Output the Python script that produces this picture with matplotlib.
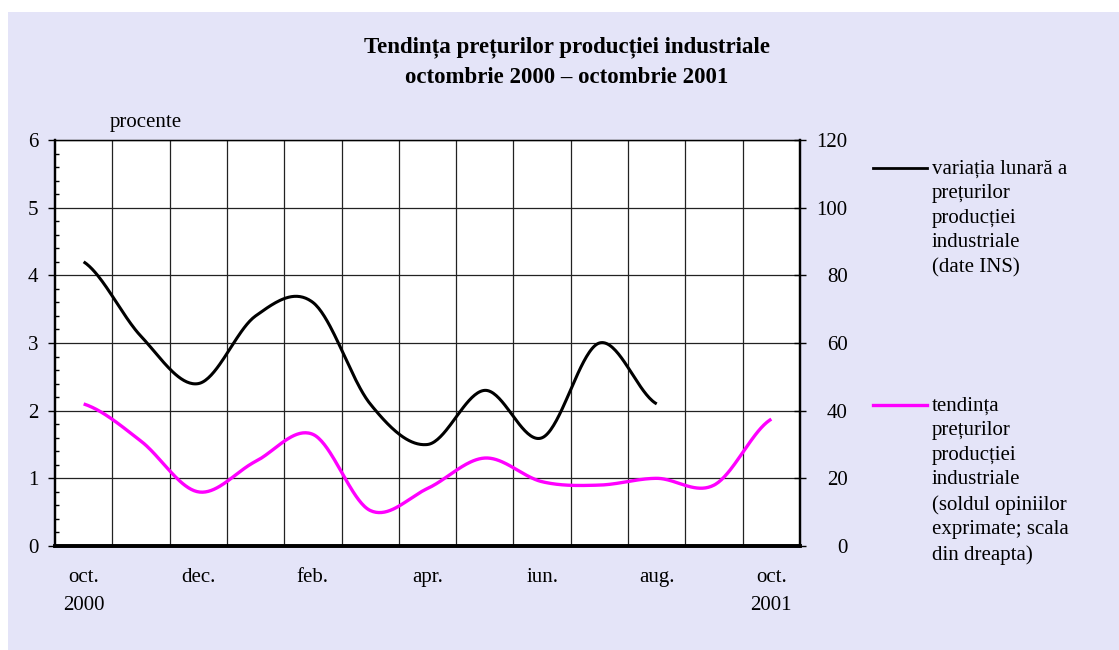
import numpy as np
import matplotlib
matplotlib.use('Agg')
import matplotlib.pyplot as plt
from matplotlib.patches import Rectangle
from matplotlib.lines import Line2D
from matplotlib.ticker import MultipleLocator, FixedLocator

plt.rcParams['font.family'] = ['Liberation Serif', 'DejaVu Serif']

# ---- data ----
months = ['oct. 2000', 'nov.', 'dec.', 'ian.', 'feb.', 'mar.', 'apr.', 'mai',
          'iun.', 'iul.', 'aug.', 'sep.', 'oct. 2001']
tick_labels = ['oct.\n2000', '', 'dec.', '', 'feb.', '', 'apr.', '', 'iun.', '',
               'aug.', '', 'oct.\n2001']
variatia_lunara = [4.2, 3.1, 2.4, 3.4, 3.6, 2.1, 1.5, 2.3, 1.6, 3.0, 2.1]   # left axis, %
tendinta = [42, 31, 16, 25, 33, 10.5, 17, 26, 19, 18, 20, 18, 37.5]       # right axis
left_ticks = [0, 1, 2, 3, 4, 5, 6]
right_ticks = [0, 20, 40, 60, 80, 100, 120]
title = 'Tendința prețurilor producției industriale\noctombrie 2000 – octombrie 2001'
label_black = 'variația lunară a\nprețurilor\nproducției\nindustriale\n(date INS)'
label_magenta = ('tendința\nprețurilor\nproducției\nindustriale\n(soldul opiniilor\n'
                 'exprimate; scala\ndin dreapta)')


def smooth(xs, ys, n=40):
    """Excel-like smoothed line (Catmull-Rom Bezier) through the data points."""
    xs = np.asarray(xs, float)
    ys = np.asarray(ys, float)
    outx, outy = [], []
    m = len(xs)
    for i in range(m - 1):
        p0 = ys[i - 1] if i > 0 else ys[i]
        p1, p2 = ys[i], ys[i + 1]
        p3 = ys[i + 2] if i + 2 < m else ys[i + 1]
        c1 = p1 + (p2 - p0) / 6.0
        c2 = p2 - (p3 - p1) / 6.0
        t = np.linspace(0, 1, n, endpoint=(i == m - 2))
        y = (1 - t) ** 3 * p1 + 3 * (1 - t) ** 2 * t * c1 + 3 * (1 - t) * t ** 2 * c2 + t ** 3 * p2
        x = xs[i] + (xs[i + 1] - xs[i]) * t
        outx.append(x)
        outy.append(y)
    return np.concatenate(outx), np.concatenate(outy)


W, H = 1119, 650
FS = 15
fig = plt.figure(figsize=(W / 100, H / 100), dpi=100)
fig.patch.set_facecolor('white')
fig.patches.append(Rectangle((8 / W, 0), 1 - 8 / W, 1 - 12 / H, transform=fig.transFigure,
                             facecolor='#e4e4f8', edgecolor='none', zorder=-10))

ax = fig.add_axes([55 / W, 104 / H, 745 / W, 406 / H])
ax.set_facecolor('white')
ax2 = ax.twinx()

x_all = np.arange(len(months))
xb, yb = smooth(x_all[:len(variatia_lunara)], variatia_lunara)
xm, ym = smooth(x_all, tendinta)
ax.plot(xb, yb, color='black', lw=2.2, solid_capstyle='butt', zorder=5)
ax2.plot(xm, ym, color='#ff00ff', lw=2.4, solid_capstyle='butt', zorder=5)

ax.set_xlim(-0.5, len(months) - 0.5)
ax.set_ylim(0, 6)
ax2.set_ylim(0, 120)

# x axis
ax.xaxis.set_major_locator(FixedLocator(x_all))
ax.set_xticklabels(tick_labels, fontsize=FS, linespacing=1.62)
ax.xaxis.set_minor_locator(FixedLocator(np.arange(0.5, len(months) - 0.5, 1)))
ax.tick_params(axis='x', which='both', length=0, pad=16)
ax.grid(axis='x', which='minor', color='#222222', lw=0.9)

# left y axis
ax.yaxis.set_major_locator(FixedLocator(left_ticks))
ax.set_yticklabels([str(v) for v in left_ticks], fontsize=FS)
ax.yaxis.set_minor_locator(MultipleLocator(0.2))
ax.tick_params(axis='y', which='major', direction='out', length=5, width=1, pad=7)
ax.tick_params(axis='y', which='minor', direction='in', length=3, width=1)
ax.grid(axis='y', which='major', color='#222222', lw=0.9)

# right y axis
ax2.yaxis.set_major_locator(FixedLocator(right_ticks))
ax2.set_yticklabels([str(v) for v in right_ticks], fontsize=FS, ha='right')
ax2.tick_params(axis='y', direction='inout', length=8.6, width=1, pad=30)

for a in (ax, ax2):
    a.spines['left'].set_linewidth(1.6)
    a.spines['right'].set_linewidth(1.6)
    a.spines['bottom'].set_linewidth(2.6)
    a.spines['top'].set_linewidth(0.9)
ax.set_axisbelow(True)

# title and unit
fig.text(567 / W, 1 - 62 / H, title, ha='center', va='center', fontsize=16.5,
         fontweight='bold', linespacing=1.55)
fig.text(110 / W, 1 - 122 / H, 'procente', ha='left', va='center', fontsize=FS)

# legend (manual)
fig.add_artist(Line2D([873 / W, 927 / W], [1 - 168 / H, 1 - 168 / H], color='black', lw=2,
                      transform=fig.transFigure))
fig.text(932 / W, 1 - 160 / H, label_black, ha='left', va='top', fontsize=FS, linespacing=1.39)
fig.add_artist(Line2D([873 / W, 927 / W], [1 - 405 / H, 1 - 405 / H], color='#ff00ff', lw=2.4,
                      transform=fig.transFigure))
fig.text(932 / W, 1 - 397 / H, label_magenta, ha='left', va='top', fontsize=FS, linespacing=1.39)

fig.savefig('out.png', dpi=100)
